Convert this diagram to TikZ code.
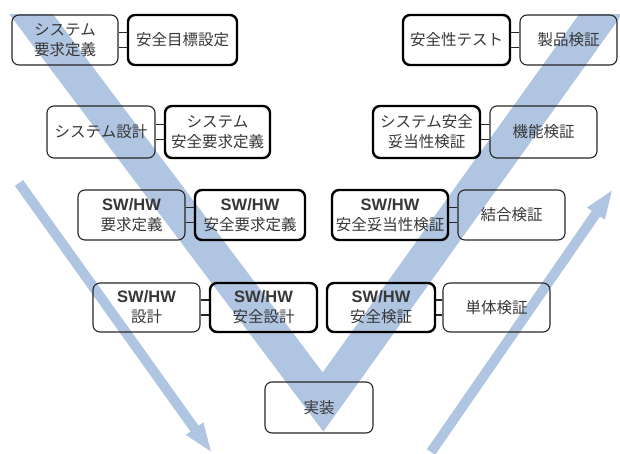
\documentclass[tikz,border=0pt]{standalone}
\usepackage{fontspec}
\setmainfont{Noto Sans CJK JP}
\newfontfamily\swfont{Liberation Sans}
\usetikzlibrary{arrows.meta}
\definecolor{vblue}{RGB}{176,197,225}
\definecolor{txt}{RGB}{55,55,55}
\newcommand{\sw}{{\swfont\bfseries\fontsize{16.5}{20}\selectfont SW/HW}}
\begin{document}
\begin{tikzpicture}[x=1pt,y=-1pt,
  box/.style={draw=black!85, rounded corners=7pt, line width=1.1pt, align=center,
    inner sep=0pt, text=txt, font=\fontsize{15.5}{20}\selectfont},
  sbox/.style={box, draw=black, line width=2.4pt},
  link/.style={draw=black!85, line width=1.1pt},
  band/.style={draw=vblue, line width=35pt, line join=miter, line cap=butt},
  sarrow/.style={draw=vblue, line width=10pt, -{Triangle[width=19pt,length=30pt]}}
]
\useasboundingbox (0,0) rectangle (620,454);
% big V
\begin{scope}
  \clip (0,15) rectangle (620,454);
  \path[band] (13,-10) -- (323,402) -- (618,-10);
\end{scope}
% outer arrows
\coordinate (la) at (19,183);
\coordinate (lb) at (212,453);
\coordinate (ra) at (431,452);
\coordinate (rb) at (613,189);
\path[sarrow] (la) -- (lb);
\path[sarrow] (ra) -- (rb);
% row 1
\node[box,  minimum width=106pt, minimum height=50pt] (A1) at (65,40) {システム\\要求定義};
\node[sbox, minimum width=109pt, minimum height=50pt] (A2) at (182.5,40) {安全目標設定};
\node[sbox, minimum width=107pt, minimum height=50pt] (A3) at (456.5,40) {安全性テスト};
\node[box,  minimum width=97pt,  minimum height=50pt] (A4) at (568.5,40) {製品検証};
% row 2
\node[box,  minimum width=108pt, minimum height=52pt] (B1) at (101,132) {システム設計};
\node[sbox, minimum width=105pt, minimum height=52pt] (B2) at (217.5,132) {システム\\安全要求定義};
\node[sbox, minimum width=107pt, minimum height=52pt] (B3) at (426.5,132) {システム安全\\妥当性検証};
\node[box,  minimum width=107pt, minimum height=52pt] (B4) at (543.5,132) {機能検証};
% row 3
\node[box,  minimum width=107pt, minimum height=50pt] (C1) at (131.5,215) {\sw\\要求定義};
\node[sbox, minimum width=110pt, minimum height=50pt] (C2) at (250,215) {\sw\\安全要求定義};
\node[sbox, minimum width=116pt, minimum height=50pt] (C3) at (390,215) {\sw\\安全妥当性検証};
\node[box,  minimum width=107pt, minimum height=50pt] (C4) at (511.5,215) {結合検証};
% row 4
\node[box,  minimum width=107pt, minimum height=49pt] (D1) at (146.5,307.5) {\sw\\設計};
\node[sbox, minimum width=107pt, minimum height=49pt] (D2) at (263.5,307.5) {\sw\\安全設計};
\node[sbox, minimum width=108pt, minimum height=49pt] (D3) at (381,307.5) {\sw\\安全検証};
\node[box,  minimum width=107pt, minimum height=49pt] (D4) at (496.5,307.5) {単体検証};
% bottom
\node[box,  minimum width=108pt, minimum height=51pt] (E) at (319,407.5) {実装};
% connectors
\foreach \a/\b in {A1/A2,A3/A4,B1/B2,B3/B4,C1/C2,C3/C4,D1/D2,D3/D4}{
  \draw[link] ([yshift=7.5pt]\a.east) -- ([yshift=7.5pt]\b.west);
  \draw[link] ([yshift=-7.5pt]\a.east) -- ([yshift=-7.5pt]\b.west);
}
\end{tikzpicture}
\end{document}
